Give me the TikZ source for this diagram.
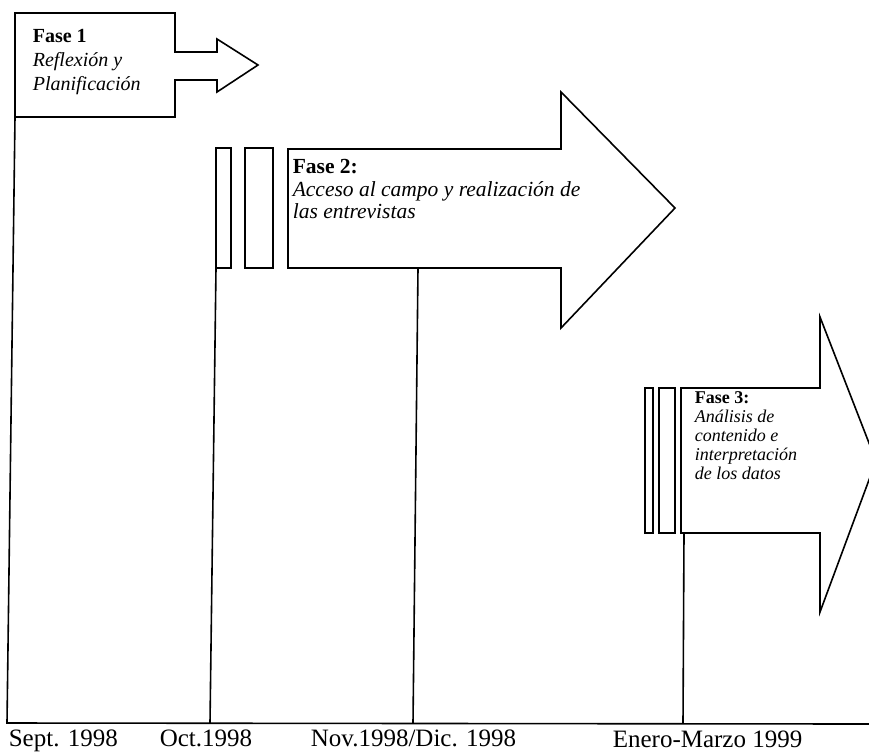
\documentclass[tikz,border=0pt]{standalone}
\usepackage{fontspec}
\setmainfont{Liberation Serif}
\begin{document}
\begin{tikzpicture}[x=1pt,y=-1pt,line width=1.6pt,line join=miter,
  shp/.style={draw=black,fill=white},
  tline/.style={draw=black},
  lbl/.style={anchor=base west,inner sep=0pt,font=\fontsize{25}{28}\selectfont},
  ttl/.style={anchor=north west,inner sep=0pt,align=left}]
\clip (0,0) rectangle (869,753);
\fill[white] (0,0) rectangle (869,753);
% timeline axis
\coordinate (a0) at (15,117);
\coordinate (a1) at (7,723);
\coordinate (a2) at (869,724);
\draw[tline] (a0) -- (a1) -- (a2);
% Fase 1 arrow
\draw[shp] (15,13) -- (175,13) -- (175,52) -- (217,52) -- (217,39) -- (258,65)
  -- (217,92) -- (217,80) -- (175,80) -- (175,117) -- (15,117) -- cycle;
\node[ttl,font=\fontsize{20}{24}\selectfont] (f1) at (32,28)
  {\textbf{Fase 1}\\\textit{Reflexión y}\\\textit{Planificación}};
% Fase 2
\draw[shp] (216,148) rectangle (231,268);
\draw[shp] (245,148) rectangle (273,268);
\draw[shp] (288,149) -- (561,149) -- (561,92) -- (675,208) -- (561,328)
  -- (561,268) -- (288,268) -- cycle;
\node[ttl,font=\fontsize{21.5}{22.5}\selectfont] (f2) at (292,158.5)
  {\textbf{Fase 2:}\\\textit{Acceso al campo y realización de}\\\textit{las entrevistas}};
\coordinate (o0) at (216,268);
\coordinate (o1) at (210,723);
\draw[tline] (o0) -- (o1);
\coordinate (n0) at (418,268);
\coordinate (n1) at (413,723);
\draw[tline] (n0) -- (n1);
% Fase 3
\draw[shp] (645,388) rectangle (653,533);
\draw[shp] (659,388) rectangle (675,533);
\draw[shp] (681,388) -- (820,388) -- (820,317) -- (876,461) -- (820,612)
  -- (820,533) -- (681,533) -- cycle;
\node[ttl,font=\fontsize{18}{19}\selectfont] (f3) at (694,391)
  {\textbf{Fase 3:}\\\textit{Análisis de}\\\textit{contenido e}\\\textit{interpretación}\\\textit{de los datos}};
\coordinate (e0) at (684,533);
\coordinate (e1) at (683,723);
\draw[tline] (e0) -- (e1);
% labels
\node[lbl] (l1) at (8,746) {Sept. 1998};
\node[lbl] (l2) at (159,746) {Oct.1998};
\node[lbl] (l3) at (310,746) {Nov.1998/Dic. 1998};
\node[lbl] (l4) at (612,747.5) {Enero-Marzo 1999};
\end{tikzpicture}
\end{document}
